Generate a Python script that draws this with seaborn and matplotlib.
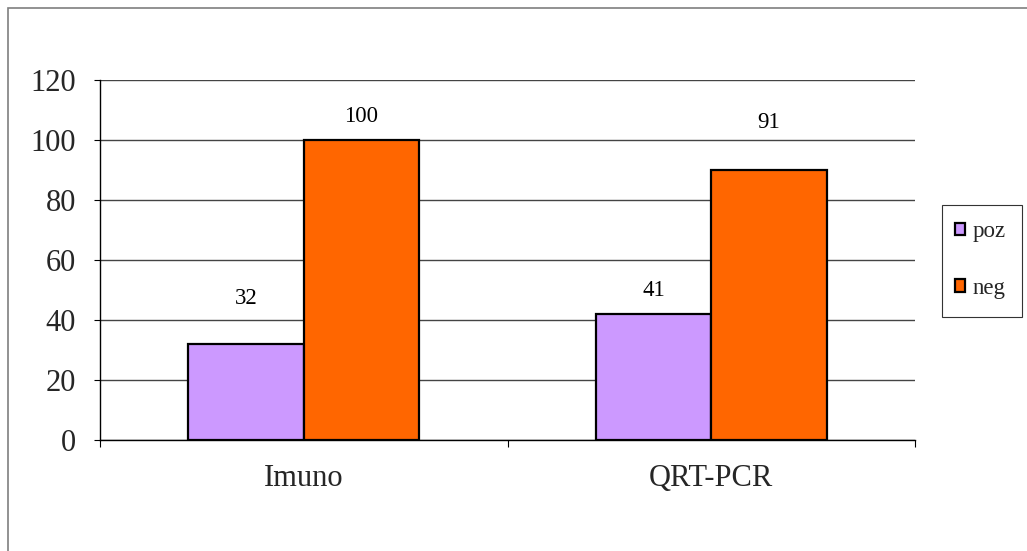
import matplotlib
matplotlib.use("Agg")
import matplotlib.pyplot as plt
import seaborn as sns
import pandas as pd
from matplotlib.patches import Rectangle, Patch
from matplotlib.ticker import FixedLocator

categories = ["Imuno", "QRT-PCR"]
series = ["poz", "neg"]
poz_values = [32, 42]
neg_values = [100, 90]
poz_labels = ["32", "41"]
neg_labels = ["100", "91"]
y_ticks = [0, 20, 40, 60, 80, 100, 120]

colors = {"poz": "#CC99FF", "neg": "#FF6600"}

df = pd.DataFrame({
    "category": categories * 2,
    "series": ["poz"] * len(categories) + ["neg"] * len(categories),
    "value": poz_values + neg_values,
})

sns.set_style("white")
plt.rcParams["font.family"] = ["Liberation Serif", "DejaVu Serif"]

fig = plt.figure(figsize=(10.27, 5.51), dpi=100)
W, H = 1027, 551
ax = fig.add_axes([100 / W, (H - 440) / H, (915 - 100) / W, (440 - 80) / H])

sns.barplot(data=df, x="category", y="value", hue="series", hue_order=series,
            palette=colors, width=0.566, gap=0, edgecolor="black", linewidth=1.6,
            saturation=1, legend=False, ax=ax, zorder=3)

ax.set_xlim(-0.5, len(categories) - 0.5)
ax.set_ylim(0, 120)
ax.set_yticks(y_ticks)
ax.set_yticklabels([str(t) for t in y_ticks], fontsize=22)
ax.yaxis.grid(True, color="#444444", linewidth=1.0, zorder=0)
ax.xaxis.grid(False)
ax.set_axisbelow(True)
ax.set_xlabel("")
ax.set_ylabel("")

for s in ["top", "right"]:
    ax.spines[s].set_visible(False)
for s in ["left", "bottom"]:
    ax.spines[s].set_color("black")
    ax.spines[s].set_linewidth(1.0)
    ax.spines[s].set_zorder(4)

ax.tick_params(axis="y", which="major", direction="out", length=4.3, width=0.8,
               color="black", pad=13, left=True)
ax.tick_params(axis="x", which="major", length=0, pad=17.5, labelsize=22)
ax.xaxis.set_minor_locator(FixedLocator([i - 0.5 for i in range(len(categories) + 1)]))
ax.tick_params(axis="x", which="minor", direction="out", length=5, width=0.8,
               color="black", bottom=True)

# data labels
label_offsets = [15, 8, 8, 16]
all_bars = [list(cont) for cont in ax.containers]
texts = [poz_labels, neg_labels]
order = [(j, i) for i in range(len(categories)) for j in range(len(series))]
for idx, (j, i) in enumerate(order):
    bar = all_bars[j][i]
    xc = bar.get_x() + bar.get_width() / 2
    ax.text(xc, bar.get_height() + label_offsets[idx], texts[j][i],
            ha="center", va="center", fontsize=16.5, color="black")

# legend
handles = [Patch(facecolor=colors[s], edgecolor="black", linewidth=1.6, label=s) for s in series]
leg = fig.legend(handles=handles, loc="upper left",
                 bbox_to_anchor=(955 / W, (H - 221) / H), fontsize=16.5,
                 frameon=False,
                 handlelength=0.45, handleheight=0.45, handletextpad=0.3,
                 labelspacing=1.55, borderpad=0, borderaxespad=0)
fig.add_artist(Rectangle((942 / W, (H - 317) / H), 80 / W, 112 / H,
                         transform=fig.transFigure, fill=False,
                         edgecolor="#333333", linewidth=0.8))

# outer chart border
fig.add_artist(Rectangle((8 / W, -0.5), 2, (H - 8) / H + 0.5,
                         transform=fig.transFigure, fill=False,
                         edgecolor="#7f7f7f", linewidth=1.2))

fig.savefig("out.png", dpi=100)
